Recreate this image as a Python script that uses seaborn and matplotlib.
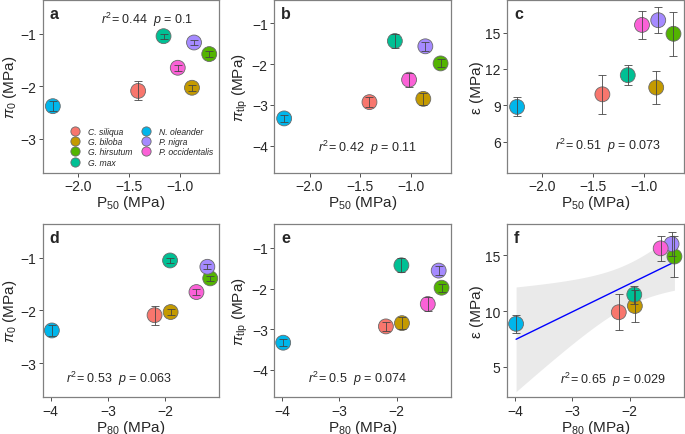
import matplotlib
matplotlib.use("Agg")
import matplotlib.pyplot as plt
import seaborn as sns
import numpy as np
import pandas as pd

species = ["C. siliqua", "G. biloba", "G. hirsutum", "G. max",
           "N. oleander", "P. nigra", "P. occidentalis"]
colors = ["#F8766D", "#C49A00", "#53B400", "#00C094",
          "#00B6EB", "#A58AFF", "#FB61D7"]

p50 = [-1.41, -0.88, -0.71, -1.16, -2.25, -0.86, -1.02]
p80 = [-2.19, -1.91, -1.22, -1.92, -3.98, -1.27, -1.46]
pi0 = [-2.09, -2.03, -1.39, -1.05, -2.38, -1.17, -1.65]
pi0_se = [0.18, 0.06, 0.05, 0.05, 0.10, 0.05, 0.06]
pitlp = [-2.93, -2.85, -1.98, -1.43, -3.33, -1.56, -2.38]
pitlp_se = [0.12, 0.14, 0.10, 0.17, 0.09, 0.11, 0.17]
eps = [9.9, 10.46, 14.9, 11.48, 8.86, 16.02, 15.63]
eps_se = [1.6, 1.4, 1.8, 0.8, 0.78, 1.05, 1.15]

df = pd.DataFrame({"species": species, "P50": p50, "P80": p80,
                   "pi0": pi0, "pi0_se": pi0_se, "pitlp": pitlp,
                   "pitlp_se": pitlp_se, "eps": eps, "eps_se": eps_se})

sns.set_theme(style="white")
plt.rcParams["font.family"] = ["Liberation Sans", "DejaVu Sans"]
plt.rcParams["mathtext.fontset"] = "custom"
plt.rcParams["mathtext.rm"] = "Liberation Sans"
plt.rcParams["mathtext.it"] = "Liberation Sans:italic"
plt.rcParams["axes.unicode_minus"] = True

fig = plt.figure(figsize=(6.85, 4.35), dpi=100)
lefts = [0.0623, 0.400, 0.740]
w, h = 0.258, 0.398
bottoms = [0.600, 0.0844]

xlab50 = r"P$_{50}$ (MPa)"
xlab80 = r"P$_{80}$ (MPa)"
panels = [
    ("a", "P50", "pi0", xlab50, r"$\pi_0$ (MPa)", (-3.65, -0.36), [-3, -2, -1],
     r"$r^2$= 0.44  $p$ = 0.1", (0.59, 0.89)),
    ("b", "P50", "pitlp", xlab50, r"$\pi_{\mathrm{tlp}}$ (MPa)", (-4.67, -0.42), [-4, -3, -2, -1],
     r"$r^2$= 0.42  $p$ = 0.11", (0.53, 0.15)),
    ("c", "P50", "eps", xlab50, "ε (MPa)", (3.4, 17.7), [6, 9, 12, 15],
     r"$r^2$= 0.51  $p$ = 0.073", (0.57, 0.165)),
    ("d", "P80", "pi0", xlab80, r"$\pi_0$ (MPa)", (-3.65, -0.36), [-3, -2, -1],
     r"$r^2$= 0.53  $p$ = 0.063", (0.43, 0.11)),
    ("e", "P80", "pitlp", xlab80, r"$\pi_{\mathrm{tlp}}$ (MPa)", (-4.67, -0.42), [-4, -3, -2, -1],
     r"$r^2$= 0.5  $p$ = 0.074", (0.475, 0.11)),
    ("f", "P80", "eps", xlab80, "ε (MPa)", (2.27, 17.8), [5, 10, 15],
     r"$r^2$= 0.65  $p$ = 0.029", (0.60, 0.105)),
]

for i, (letter, xc, yc, xlab, ylab, ylim, yticks, ann, apos) in enumerate(panels):
    ax = fig.add_axes([lefts[i % 3], bottoms[i // 3], w, h])

    if letter == "f":
        # linear fit with 95% confidence band, as in geom_smooth(method = "lm")
        x = df[xc].to_numpy()
        y = df[yc].to_numpy()
        b1, b0 = np.polyfit(x, y, 1)
        xs = np.linspace(x.min(), x.max(), 80)
        n = len(x)
        resid = y - (b0 + b1 * x)
        s = np.sqrt(np.sum(resid ** 2) / (n - 2))
        se = s * np.sqrt(1 / n + (xs - x.mean()) ** 2 / np.sum((x - x.mean()) ** 2))
        fit = b0 + b1 * xs
        ax.fill_between(xs, fit - 2.5706 * se, fit + 2.5706 * se,
                        color="#d9d9d9", alpha=0.55, lw=0, zorder=1)
        sns.lineplot(x=xs, y=fit, color="blue", lw=1.0, ax=ax, zorder=2)

    sns.scatterplot(data=df, x=xc, y=yc, hue="species", palette=colors,
                    s=115, edgecolor="#6a6a6a", linewidth=0.6, ax=ax,
                    legend=(letter == "a"), zorder=3)
    ax.errorbar(df[xc], df[yc], yerr=df[yc + "_se"], fmt="none",
                ecolor="#444444", elinewidth=0.7, capsize=3, capthick=0.7,
                alpha=0.85, zorder=4)

    if xc == "P50":
        ax.set_xlim(-2.35, -0.61)
        ax.set_xticks([-2.0, -1.5, -1.0])
        ax.set_xticklabels(["−2.0", "−1.5", "−1.0"])
    else:
        ax.set_xlim(-4.14, -1.06)
        ax.set_xticks([-4, -3, -2])
    ax.set_ylim(*ylim)
    ax.set_yticks(yticks)

    ax.set_xlabel(xlab, fontsize=11, labelpad=0)
    ax.set_ylabel(ylab, fontsize=11, labelpad=1)
    ax.tick_params(axis="both", labelsize=10, length=3, width=0.6,
                   color="#333333", pad=1.5, bottom=True, left=True)
    for sp in ax.spines.values():
        sp.set_color("#808080")
        sp.set_linewidth(0.9)

    ax.text(0.04, 0.965, letter, transform=ax.transAxes, fontsize=11.5,
            fontweight="bold", va="top", ha="left")
    ax.text(apos[0], apos[1], ann, transform=ax.transAxes, fontsize=9,
            ha="center", va="center")

    if letter == "a":
        handles, labels = ax.get_legend_handles_labels()
        ax.legend(handles, labels, ncol=2, loc="lower right",
                  bbox_to_anchor=(1.0, 0.0), frameon=False,
                  prop={"size": 6.2, "style": "italic"}, labelspacing=0.15,
                  columnspacing=0.6, handletextpad=0.5, markerscale=0.62,
                  borderpad=0.25)

fig.savefig("out.png", dpi=100)
